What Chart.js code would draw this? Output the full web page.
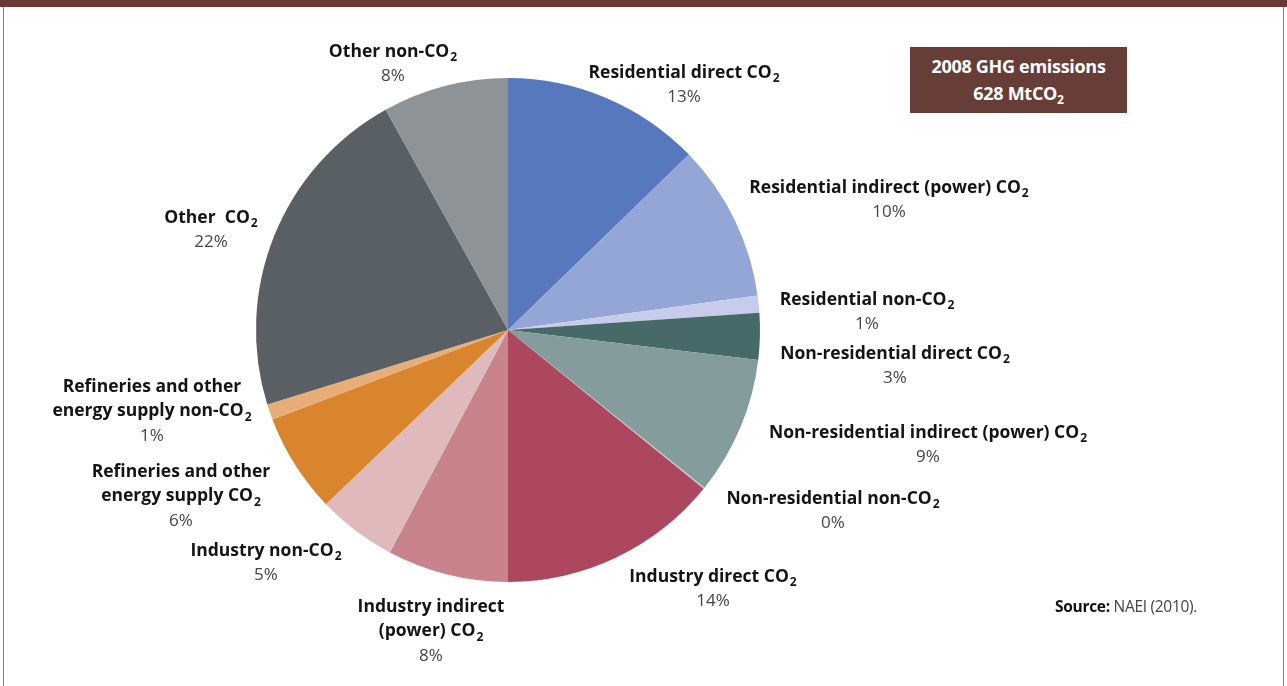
<!DOCTYPE html>
<html>
<head>
<meta charset="utf-8">
<script src="https://cdn.jsdelivr.net/npm/chart.js@4.4.0/dist/chart.umd.min.js"></script>
<style>
  html, body { margin: 0; padding: 0; background: #fff; }
  #wrap { position: relative; width: 1287px; height: 686px; overflow: hidden; font-family: "Open Sans", sans-serif; }
  #topbar { position: absolute; left: 0; top: 0; width: 1287px; height: 7px; background: #693a35; }
  #lb, #rb { position: absolute; top: 7px; width: 1px; height: 679px; background: #9b7873; }
  #lb { left: 3px; }
  #rb { left: 1283px; }
  #title { position: absolute; left: 910px; top: 47px; width: 217px; height: 66px; background: #673d38; color: #fff;
           font-weight: 700; font-size: 18px; text-align: center; line-height: 27px; padding-top: 6px; box-sizing: border-box; letter-spacing: -0.3px; }
  #title sub { font-size: 12px; vertical-align: -4px; line-height: 0; }
  #source { position: absolute; left: 1055px; top: 595px; font-size: 15.5px; color: #444; letter-spacing: -0.3px; }
  #source b { color: #111; }
  #chart { position: absolute; left: 0; top: 0; }
</style>
</head>
<body>
<div id="wrap">
  <canvas id="chart" width="1287" height="686"></canvas>
  <div id="topbar"></div>
  <div id="lb"></div>
  <div id="rb"></div>
  <div id="title">2008 GHG emissions<br>628 MtCO<sub>2</sub></div>
  <div id="source"><b>Source:</b> NAEI (2010).</div>
</div>
<script>
// Data (share of 2008 GHG emissions, %)
const categories = [
  "Residential direct CO2",
  "Residential indirect (power) CO2",
  "Residential non-CO2",
  "Non-residential direct CO2",
  "Non-residential indirect (power) CO2",
  "Non-residential non-CO2",
  "Industry direct CO2",
  "Industry indirect\n(power) CO2",
  "Industry non-CO2",
  "Refineries and other\nenergy supply CO2",
  "Refineries and other\nenergy supply non-CO2",
  "Other  CO2",
  "Other non-CO2"
];
const shares = [12.8, 10.1, 1.1, 3.0, 8.9, 0.1, 14.2, 7.8, 5.1, 6.4, 1.0, 21.8, 8.1];

const colors = [
  "#5878be", "#93a6d5", "#c6cce9", "#476a68", "#849c9b", "#b9c7c6", "#ad475d",
  "#c8838c", "#dfb9bc", "#d8852e", "#e9ae78", "#5a5f63", "#8f9396"
];

// where each label's first line sits, relative to the pie centre
const labelOffsets = [
  [176, -257], [381, -142], [359, -30], [387, 24], [420, 103], [325, 169], [205, 247],
  [-77, 277], [-242, 221], [-327, 142], [-356, 57], [-297, -112], [-115, -278]
];

const boldFont = "700 17.5px 'Open Sans'";
const subFont = "700 12px 'Open Sans'";
const pctFont = "400 17px 'Open Sans'";
const lineGap = 24.5;

function drawLine(ctx, text, cx, y, font, sFont, color) {
  let main = text, sub = "";
  if (text.endsWith("CO2")) { main = text.slice(0, -1); sub = "2"; }
  ctx.font = font;
  const w1 = ctx.measureText(main).width;
  ctx.font = sFont;
  const w2 = sub ? ctx.measureText(sub).width + 1 : 0;
  const x0 = cx - (w1 + w2) / 2;
  ctx.fillStyle = color;
  ctx.textAlign = "left";
  ctx.textBaseline = "middle";
  ctx.font = font;
  ctx.fillText(main, x0, y);
  if (sub) {
    ctx.font = sFont;
    ctx.fillText(sub, x0 + w1 + 1, y + 6);
  }
}

const labelPlugin = {
  id: "sliceLabels",
  afterDraw(chart) {
    const ctx = chart.ctx;
    const arc = chart.getDatasetMeta(0).data[0];
    ctx.save();
    categories.forEach((name, i) => {
      const cx = arc.x + labelOffsets[i][0];
      let y = arc.y + labelOffsets[i][1];
      name.split("\n").forEach(line => {
        drawLine(ctx, line, cx, y, boldFont, subFont, "#141414");
        y += lineGap;
      });
      drawLine(ctx, Math.round(shares[i]) + "%", cx, y, pctFont, subFont, "#454545");
    });
    ctx.restore();
  }
};

new Chart(document.getElementById("chart"), {
  type: "pie",
  data: {
    labels: categories,
    datasets: [{
      data: shares,
      backgroundColor: colors,
      borderWidth: 0
    }]
  },
  options: {
    responsive: false,
    animation: false,
    devicePixelRatio: 1,
    layout: { padding: { left: 256, right: 527, top: 78, bottom: 104 } },
    plugins: {
      legend: { display: false },
      tooltip: { enabled: false }
    }
  },
  plugins: [labelPlugin]
});
</script>
</body>
</html>
